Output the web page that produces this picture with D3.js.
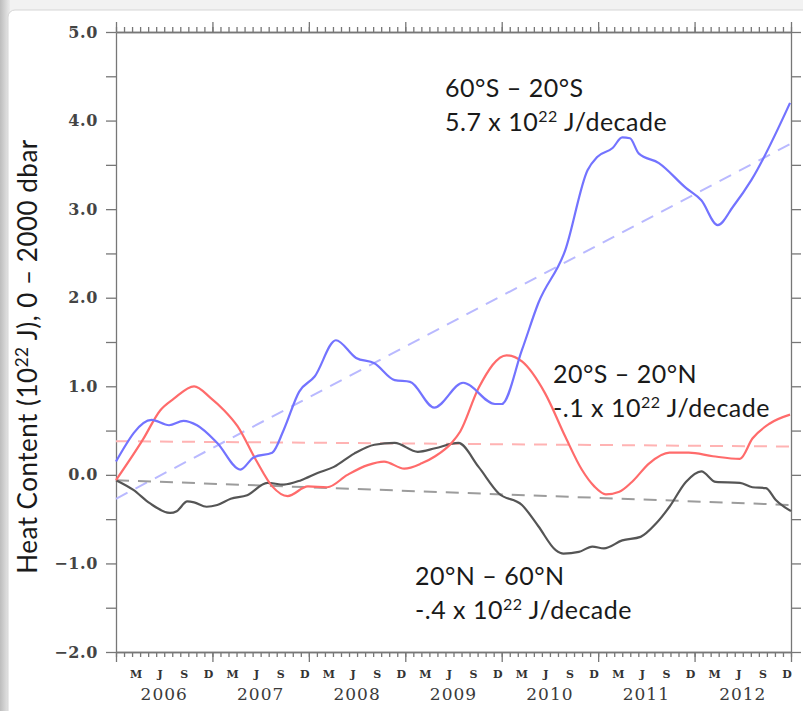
<!DOCTYPE html>
<html>
<head>
<meta charset="utf-8">
<script src="https://cdn.jsdelivr.net/npm/d3@7"></script>
<style>
  html, body { margin: 0; padding: 0; background: #f2f2f2; }
  svg { display: block; }
  .tick text { font-family: "DejaVu Serif", serif; font-weight: bold; fill: #444; }
  .note { font-family: Lato, "Liberation Sans", sans-serif; font-size: 25px; fill: #1a1a1a; letter-spacing: 0.5px; }
</style>
</head>
<body>
<svg width="803" height="711"></svg>
<script>
// ---- data ----
// times are decimal years, values are 10^22 J
const southT = [2006.0, 2006.37, 2006.55, 2006.70, 2006.84, 2007.05, 2007.29, 2007.43, 2007.62, 2007.74,
  2007.90, 2008.06, 2008.28, 2008.49, 2008.68, 2008.89, 2009.05, 2009.30, 2009.60, 2009.93, 2010.00,
  2010.21, 2010.38, 2010.66, 2010.89, 2010.99, 2011.15, 2011.25, 2011.33, 2011.42, 2011.63, 2011.91,
  2012.07, 2012.24, 2012.40, 2012.59, 2012.99];
const southV = [0.15, 0.62, 0.56, 0.61, 0.56, 0.36, 0.06, 0.20, 0.25, 0.51,
  0.94, 1.11, 1.52, 1.32, 1.26, 1.07, 1.05, 0.76, 1.04, 0.80, 0.80,
  1.41, 1.94, 2.54, 3.44, 3.59, 3.69, 3.81, 3.80, 3.63, 3.52, 3.24,
  3.10, 2.82, 3.03, 3.33, 4.20];

const tropT = [2006.0, 2006.28, 2006.46, 2006.60, 2006.81, 2006.98, 2007.12, 2007.26, 2007.45, 2007.62,
  2007.78, 2007.99, 2008.19, 2008.40, 2008.61, 2008.78, 2008.99, 2009.17, 2009.31, 2009.48, 2009.57,
  2009.76, 2010.05, 2010.21, 2010.45, 2010.66, 2010.83, 2010.96, 2011.08, 2011.22, 2011.35, 2011.53,
  2011.74, 2011.94, 2012.19, 2012.47, 2012.60, 2012.78, 2012.99];
const tropV = [-0.06, 0.40, 0.73, 0.86, 1.00, 0.87, 0.73, 0.55, 0.17, -0.13,
  -0.24, -0.13, -0.14, 0.00, 0.11, 0.15, 0.07, 0.13, 0.21, 0.36, 0.49,
  0.98, 1.35, 1.28, 0.92, 0.43, 0.06, -0.13, -0.22, -0.19, -0.08, 0.13,
  0.25, 0.25, 0.21, 0.18, 0.41, 0.58, 0.68];

const northT = [2006.0, 2006.18, 2006.35, 2006.56, 2006.63, 2006.74, 2006.81, 2006.94, 2007.05, 2007.19,
  2007.36, 2007.57, 2007.74, 2007.92, 2008.09, 2008.26, 2008.47, 2008.68, 2008.89, 2009.13, 2009.31,
  2009.55, 2009.76, 2009.97, 2010.21, 2010.38, 2010.56, 2010.64, 2010.80, 2010.94, 2011.06, 2011.25,
  2011.44, 2011.60, 2011.74, 2011.91, 2012.07, 2012.22, 2012.47, 2012.60, 2012.74, 2012.84, 2013.0];
const northV = [-0.06, -0.17, -0.32, -0.43, -0.41, -0.30, -0.31, -0.36, -0.34, -0.27,
  -0.23, -0.09, -0.11, -0.06, 0.02, 0.09, 0.24, 0.34, 0.36, 0.26, 0.30,
  0.36, 0.09, -0.21, -0.34, -0.58, -0.85, -0.89, -0.87, -0.81, -0.83, -0.74,
  -0.70, -0.55, -0.36, -0.08, 0.04, -0.08, -0.09, -0.14, -0.15, -0.28, -0.41];

// linear trends: value at start and end of record
const trendT = [2006.0, 2013.0];
const southTrend = [-0.27, 3.74];
const tropTrend = [0.38, 0.32];
const northTrend = [-0.06, -0.34];

const monthLetters = ["M", "J", "S", "D"];
const monthIdx = [2, 5, 8, 11];
const years = [2006, 2007, 2008, 2009, 2010, 2011, 2012];

const series = [
  {t: southT, v: southV, trend: southTrend, color: "#7373ff", dash: "#b9b9ff"},
  {t: tropT, v: tropV, trend: tropTrend, color: "#ff6b6b", dash: "#ffb3b3"},
  {t: northT, v: northV, trend: northTrend, color: "#555555", dash: "#9c9c9c"}
];

// ---- layout ----
const svg = d3.select("svg");
const plot = {left: 116, right: 791, top: 32, bottom: 652};

// card background with soft left shadow
const defs = svg.append("defs");
const grad = defs.append("linearGradient").attr("id", "shade");
grad.append("stop").attr("offset", "0").attr("stop-color", "#bdbdbd");
grad.append("stop").attr("offset", "1").attr("stop-color", "#ececec");
svg.append("rect").attr("width", 10).attr("height", 711).attr("fill", "url(#shade)");
svg.append("rect").attr("x", 8).attr("y", 10).attr("width", 820).attr("height", 740)
  .attr("rx", 7).attr("fill", "#fff").attr("stroke", "#d6d6d6");

const x = d3.scaleLinear().domain([2006, 2013]).range([plot.left, plot.right]);
const y = d3.scaleLinear().domain([-2, 5]).range([plot.bottom, plot.top]);

const months = d3.range(0, 85).map(i => 2006 + i / 12);
const yearTicks = d3.range(2006, 2014);
const axisColor = "#777";

function styleAxis(g) {
  g.selectAll("path, line").attr("stroke", axisColor).attr("stroke-width", 1.3);
}

// y axes
svg.append("g").attr("transform", `translate(${plot.left},0)`)
  .call(d3.axisLeft(y).tickValues(d3.range(-2, 5.01, 0.5)).tickSize(10).tickSizeOuter(0)
    .tickPadding(8).tickFormat(d => Number.isInteger(d) ? d3.format(".1f")(d) : ""))
  .call(styleAxis)
  .call(g => g.selectAll(".tick text").attr("font-size", 16).style("letter-spacing", "0.6px"));

svg.append("g").attr("transform", `translate(${plot.right},0)`)
  .call(d3.axisRight(y).tickValues(d3.range(-2, 5.01, 0.5)).tickSize(10).tickSizeOuter(0).tickFormat(""))
  .call(styleAxis);

// x axes: monthly minor ticks, yearly major ticks
[[d3.axisTop, plot.top], [d3.axisBottom, plot.bottom]].forEach(([ax, py]) => {
  svg.append("g").attr("transform", `translate(0,${py})`)
    .call(ax(x).tickValues(months).tickSize(5).tickSizeOuter(0).tickFormat(""))
    .call(styleAxis);
  svg.append("g").attr("transform", `translate(0,${py})`)
    .call(ax(x).tickValues(yearTicks).tickSize(10).tickSizeOuter(0).tickFormat(""))
    .call(styleAxis);
});

// month letters and year labels
const monthPos = years.flatMap(yr => monthIdx.map((m, i) => ({t: yr + (m + 0.5) / 12, label: monthLetters[i]})));
svg.append("g").selectAll("text").data(monthPos).join("text")
  .attr("x", d => x(d.t)).attr("y", plot.bottom + 26)
  .attr("text-anchor", "middle")
  .style("font-family", "DejaVu Serif, serif").style("font-weight", "bold")
  .style("font-size", "11px").style("fill", "#333")
  .text(d => d.label);

svg.append("g").selectAll("text").data(years).join("text")
  .attr("x", d => x(d + 0.5)).attr("y", plot.bottom + 48)
  .attr("text-anchor", "middle")
  .style("font-family", "DejaVu Serif, serif").style("font-size", "17px")
  .style("letter-spacing", "1px").style("fill", "#3a3a3a")
  .text(d => d);

// trends then series
const line = d3.line().x(d => x(d[0])).y(d => y(d[1])).curve(d3.curveMonotoneX);
const trendLine = d3.line().x(d => x(d[0])).y(d => y(d[1]));

series.forEach(s => {
  svg.append("path")
    .datum(trendT.map((t, i) => [t, s.trend[i]]))
    .attr("d", trendLine)
    .attr("fill", "none").attr("stroke", s.dash).attr("stroke-width", 2)
    .attr("stroke-dasharray", "13,9");
});
series.slice().reverse().forEach(s => {
  svg.append("path")
    .datum(s.t.map((t, i) => [t, s.v[i]]))
    .attr("d", line)
    .attr("fill", "none").attr("stroke", s.color).attr("stroke-width", 2.2)
    .attr("stroke-linejoin", "round");
});

// annotations
function note(px, py, region, rate) {
  const g = svg.append("g").attr("class", "note");
  g.append("text").attr("x", px).attr("y", py).text(region);
  const t = g.append("text").attr("x", px).attr("y", py + 34);
  t.append("tspan").text(rate + " x 10");
  t.append("tspan").attr("dy", -9).style("font-size", "16px").text("22");
  t.append("tspan").attr("dy", 9).text(" J/decade");
}
note(445, 97, "60°S – 20°S", "5.7");
note(553, 383, "20°S – 20°N", "-.1");
note(415, 585, "20°N – 60°N", "-.4");

// y title
const yt = svg.append("text").attr("class", "note")
  .attr("transform", `translate(37,${(140 + 573) / 2}) rotate(-90)`)
  .attr("text-anchor", "middle").style("font-size", "26px");
yt.append("tspan").text("Heat Content (10");
yt.append("tspan").attr("dy", -9).style("font-size", "17px").text("22");
yt.append("tspan").attr("dy", 9).text(" J), 0 – 2000 dbar");
</script>
</body>
</html>
